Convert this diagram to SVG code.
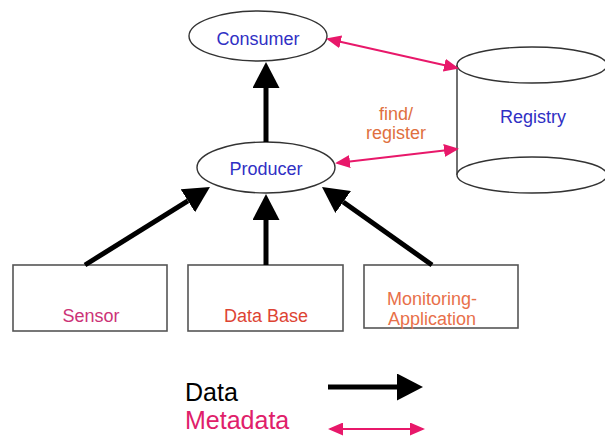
<svg xmlns="http://www.w3.org/2000/svg" width="605" height="443" viewBox="0 0 605 443">
  <style>
    .shape { fill: #fff; stroke: #333; stroke-width: 1.4; }
    .box { fill: #fff; stroke: #555; stroke-width: 1.6; }
    .lbl { font-family: "Liberation Sans", Arial, sans-serif; font-size: 18px; text-anchor: middle; }
    .blue { fill: #3030c4; }
    .legend { font-family: "Liberation Sans", Arial, sans-serif; font-size: 25px; }
    .data { stroke: #000; stroke-width: 5; fill: none; }
    .meta { stroke: #e8186a; stroke-width: 2; fill: none; }
  </style>
  <defs>
    <marker id="dataHead" markerUnits="userSpaceOnUse" markerWidth="27" markerHeight="27" refX="0" refY="13.5" orient="auto">
      <path d="M0,0 L26,13.5 L0,27 z" fill="#000"/>
    </marker>
    <marker id="metaHead" markerUnits="userSpaceOnUse" markerWidth="16" markerHeight="13" refX="13" refY="6.5" orient="auto-start-reverse">
      <path d="M0,0 L15,6.5 L0,13 z" fill="#e8186a"/>
    </marker>
  </defs>

  <rect width="605" height="443" fill="#fff"/>

  <g id="consumer">
    <ellipse class="shape" cx="258" cy="36" rx="69" ry="25"/>
    <text class="lbl blue" x="258" y="45">Consumer</text>
  </g>

  <g id="producer">
    <ellipse class="shape" cx="266" cy="167.5" rx="69" ry="25.5"/>
    <text class="lbl blue" x="266" y="175">Producer</text>
  </g>

  <g id="registry">
    <line class="shape" x1="457" y1="65" x2="457" y2="175"/>
    <line class="shape" x1="607" y1="65" x2="607" y2="175"/>
    <ellipse class="shape" cx="532" cy="175" rx="75" ry="18"/>
    <ellipse class="shape" cx="532" cy="65" rx="75" ry="18"/>
    <text class="lbl blue" x="533" y="123">Registry</text>
  </g>

  <g id="sensor">
    <rect class="box" x="13" y="265" width="154" height="66"/>
    <text class="lbl" x="91" y="322" fill="#cc3377" font-size="19">Sensor</text>
  </g>

  <g id="database">
    <rect class="box" x="188" y="265" width="155" height="66"/>
    <text class="lbl" x="266" y="322" fill="#dd4433" font-size="19">Data Base</text>
  </g>

  <g id="monitoring">
    <rect class="box" x="364" y="265" width="154" height="63"/>
    <text class="lbl" x="432" y="305" fill="#e8704a">Monitoring-</text>
    <text class="lbl" x="432" y="325" fill="#e8704a">Application</text>
  </g>

  <g id="connectors">
    <!-- data flow -->
    <line class="data" x1="266" y1="142" x2="266" y2="88" marker-end="url(#dataHead)"/>
    <line class="data" x1="85" y1="265" x2="187.9" y2="200.8" marker-end="url(#dataHead)"/>
    <line class="data" x1="266" y1="265" x2="266" y2="220" marker-end="url(#dataHead)"/>
    <line class="data" x1="432" y1="265" x2="343.2" y2="202" marker-end="url(#dataHead)"/>
    <!-- metadata exchange -->
    <line class="meta" x1="328" y1="39" x2="457" y2="68" marker-start="url(#metaHead)" marker-end="url(#metaHead)"/>
    <line class="meta" x1="337" y1="163" x2="457" y2="149" marker-start="url(#metaHead)" marker-end="url(#metaHead)"/>
    <text class="lbl" x="396" y="120" fill="#e07040">find/</text>
    <text class="lbl" x="396" y="139" fill="#e07040">register</text>
  </g>

  <g id="legend">
    <text class="legend" x="185" y="401" fill="#000">Data</text>
    <text class="legend" x="185" y="429" fill="#e0206a">Metadata</text>
    <line class="data" x1="328" y1="387" x2="397" y2="387" marker-end="url(#dataHead)"/>
    <line class="meta" x1="330" y1="429" x2="423" y2="429" marker-start="url(#metaHead)" marker-end="url(#metaHead)"/>
  </g>
</svg>
